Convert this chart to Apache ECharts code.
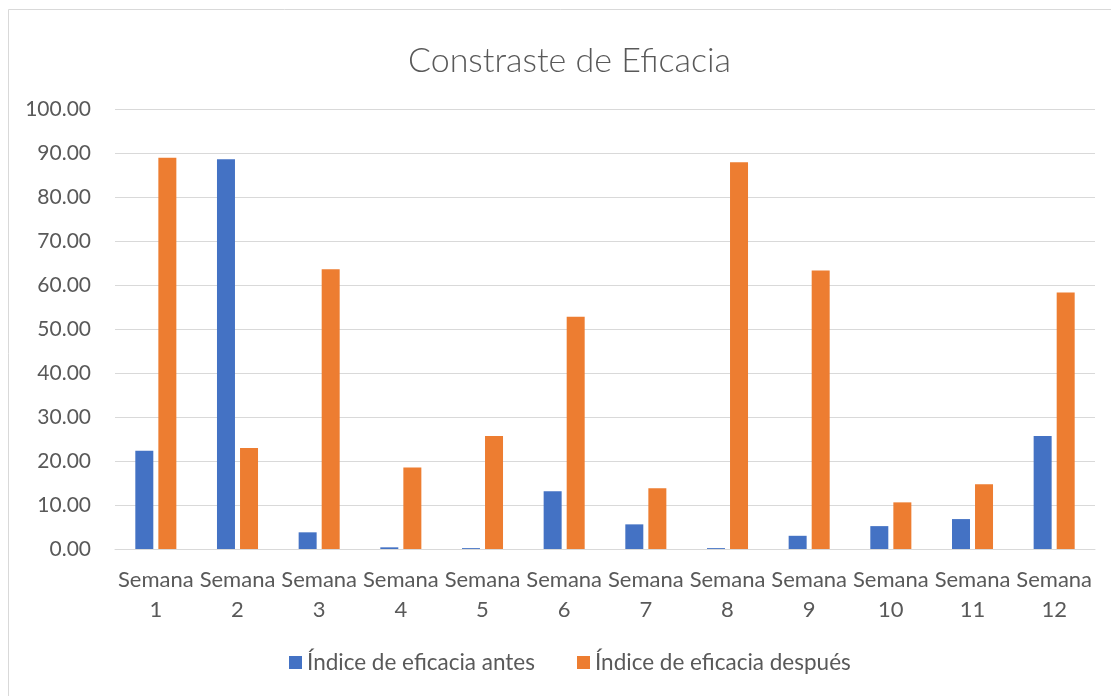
<!DOCTYPE html>
<html><head><meta charset="utf-8">
<script src="https://cdn.jsdelivr.net/npm/echarts@6/dist/echarts.min.js"></script>
<style>html,body{margin:0;padding:0;background:#fff}#c{width:1111px;height:696px}</style>
</head><body><div id="c"></div>
<script>
const categories = ["Semana\n1","Semana\n2","Semana\n3","Semana\n4","Semana\n5","Semana\n6","Semana\n7","Semana\n8","Semana\n9","Semana\n10","Semana\n11","Semana\n12"];
const antes = [22.35, 88.56, 3.79, 0.38, 0.2, 13.1, 5.6, 0.2, 3.0, 5.2, 6.8, 25.7];
const despues = [88.9, 22.95, 63.6, 18.5, 25.7, 52.8, 13.8, 87.9, 63.3, 10.6, 14.7, 58.3];
const seriesNames = ["Índice de eficacia antes", "Índice de eficacia después"];
const FONT = 'Lato, "Open Sans", sans-serif';
const chart = echarts.init(document.getElementById('c'));
chart.setOption({
  animation: false,
  backgroundColor: '#fff',
  textStyle: { fontFamily: FONT },
  graphic: [{
    type: 'rect', shape: { x: 8.5, y: 9.5, width: 1120, height: 700 },
    style: { fill: 'none', stroke: '#d9d9d9', lineWidth: 1 }, silent: true
  }],
  title: {
    text: 'Constraste de Eficacia', left: 403, top: 39,
    textStyle: { fontFamily: FONT, fontSize: 34, fontWeight: 300, color: '#595959' }
  },
  legend: {
    bottom: 17, left: 284, itemWidth: 13, itemHeight: 13, itemGap: 42,
    icon: 'rect',
    textStyle: { fontFamily: FONT, fontSize: 22.5, color: '#595959' },
    data: seriesNames
  },
  grid: { left: 115, right: 16, top: 109, bottom: 147, containLabel: false },
  xAxis: {
    type: 'category', data: categories,
    axisLine: { lineStyle: { color: '#d9d9d9' } },
    axisTick: { show: false },
    axisLabel: { color: '#595959', fontSize: 22, fontFamily: FONT, lineHeight: 30, margin: 16, interval: 0 }
  },
  yAxis: {
    type: 'value', min: 0, max: 100, interval: 10,
    axisLine: { show: false }, axisTick: { show: false },
    splitLine: { lineStyle: { color: '#d9d9d9', width: 1 } },
    axisLabel: { color: '#595959', fontSize: 21, fontFamily: FONT, margin: 24, formatter: v => v.toFixed(2) }
  },
  series: [
    { name: seriesNames[0], type: 'bar', data: antes, barWidth: 18, barGap: '28%', itemStyle: { color: '#4472c4' } },
    { name: seriesNames[1], type: 'bar', data: despues, barWidth: 18, itemStyle: { color: '#ed7d31' } }
  ]
});
</script></body></html>
